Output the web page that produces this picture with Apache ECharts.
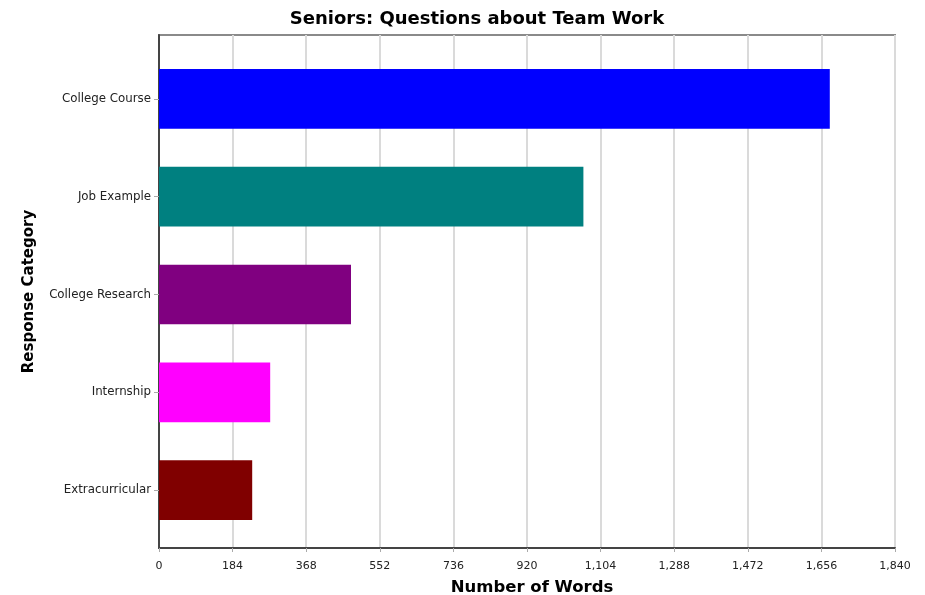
<!DOCTYPE html>
<html>
<head>
<meta charset="utf-8">
<script src="https://cdn.jsdelivr.net/npm/echarts@6/dist/echarts.min.js"></script>
<style>html,body{margin:0;padding:0;background:#fff}#main{width:925px;height:595px}</style>
</head>
<body>
<div id="main"></div>
<script>
// data
var categories = ['College Course', 'Job Example', 'College Research', 'Internship', 'Extracurricular'];
var words = [1677, 1061, 480, 278, 233];
var barColors = ['#0000ff', '#008080', '#800080', '#ff00ff', '#800000'];
var xTicks = [0, 184, 368, 552, 736, 920, 1104, 1288, 1472, 1656, 1840];

var labelFont = 'DejaVu Sans';
var chart = echarts.init(document.getElementById('main'));

var option = {
	animation: false,
	title: {
		text: 'Seniors: Questions about Team Work',
		left: 472, top: 5, textAlign: 'center',
		textStyle: { fontFamily: labelFont, fontSize: 18, fontWeight: 'bold', color: '#000' }
	},
	grid: [
		// frame + gridlines
		{ left: 159, right: 30, top: 35, bottom: 47, show: true, borderColor: '#8a8a8a', borderWidth: 2, outerBoundsMode: 'none' },
		// bars
		{ left: 159, right: 30, top: 50, bottom: 56, outerBoundsMode: 'none' }
	],
	xAxis: [{
		gridIndex: 0, type: 'value', min: 0, max: 1840, interval: 184,
		name: 'Number of Words', nameLocation: 'middle', nameGap: 31,
		nameTextStyle: { fontFamily: labelFont, fontSize: 16.5, fontWeight: 'bold', color: '#000', padding: [0, 0, 0, 10] },
		axisLine: { show: true, lineStyle: { color: '#444', width: 2 } },
		axisTick: { show: true, length: 4, lineStyle: { color: '#aaa' } },
		axisLabel: {
			margin: 13, fontFamily: labelFont, fontSize: 11, color: '#222',
			formatter: function (v) { return v.toLocaleString('en-US'); }
		},
		splitLine: { show: true, lineStyle: { color: '#dadada', width: 2 } }
	}, {
		gridIndex: 1, type: 'value', min: 0, max: 1840, show: false
	}],
	yAxis: [{
		gridIndex: 0, type: 'value', min: 0, max: 1,
		name: 'Response Category', nameLocation: 'middle', nameGap: 122,
		nameTextStyle: { fontFamily: labelFont, fontSize: 15, fontWeight: 'bold', color: '#000' },
		axisLine: { show: true, lineStyle: { color: '#444', width: 2 } },
		axisTick: { show: false }, axisLabel: { show: false }, splitLine: { show: false }
	}, {
		gridIndex: 1, type: 'category', data: categories, inverse: true,
		axisLine: { show: false },
		axisTick: { show: true, alignWithLabel: true, length: 5, lineStyle: { color: '#aaa' } },
		axisLabel: { margin: 8, fontFamily: labelFont, fontSize: 11.8, color: '#222' }
	}],
	series: [{
		type: 'bar', xAxisIndex: 1, yAxisIndex: 1,
		barWidth: '61%',
		data: words.map(function (v, i) {
			return { value: v, itemStyle: { color: barColors[i] } };
		})
	}]
};
chart.setOption(option);
</script>
</body>
</html>
